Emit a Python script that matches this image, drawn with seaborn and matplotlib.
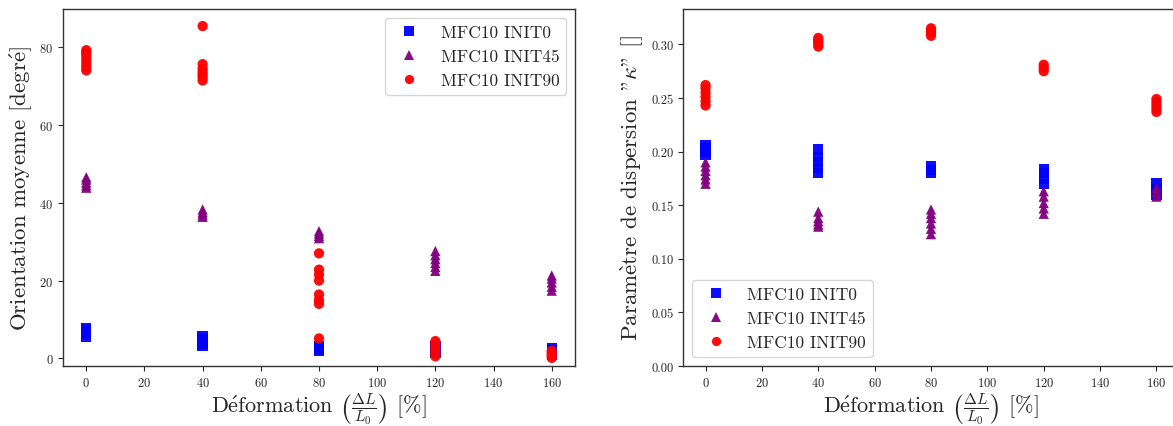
import numpy as np
import pandas as pd
import matplotlib
matplotlib.use("Agg")
import matplotlib.pyplot as plt
import seaborn as sns

# niveaux de deformation (%)
strain_levels = [0, 40, 80, 120, 160]
series_names = ["MFC10 INIT0", "MFC10 INIT45", "MFC10 INIT90"]

# orientation moyenne [degre], une liste par niveau de deformation
orient_init0 = [[5.6, 6.2, 6.8, 7.3, 7.7],
                [3.2, 3.8, 4.4, 5.0, 5.6],
                [2.0, 2.4, 2.8, 3.1],
                [1.5, 2.0, 2.5, 3.0],
                [0.8, 1.4, 2.0, 2.5]]
orient_init45 = [[43.9, 44.5, 45.2, 46.0, 46.6],
                 [36.4, 37.0, 37.6, 38.3],
                 [30.9, 31.5, 32.1, 32.7],
                 [22.5, 23.5, 24.5, 25.5, 26.5, 27.6],
                 [17.4, 18.4, 19.5, 20.5, 21.3]]
orient_init90 = [[74.1, 75.0, 76.0, 77.0, 78.0, 78.7, 79.3],
                 [85.5, 71.5, 72.3, 73.0, 73.7, 74.5, 75.7],
                 [27.0, 22.8, 21.5, 20.0, 16.4, 15.0, 14.0, 5.1],
                 [0.5, 1.5, 2.5, 3.5, 4.4],
                 [0.1, 0.7, 1.3, 1.9]]

# parametre de dispersion kappa
kappa_init0 = [[0.197, 0.200, 0.203, 0.206],
               [0.180, 0.185, 0.190, 0.195, 0.202],
               [0.180, 0.183, 0.186],
               [0.170, 0.175, 0.180, 0.184],
               [0.160, 0.165, 0.171]]
kappa_init45 = [[0.170, 0.174, 0.178, 0.182, 0.186, 0.190],
                [0.130, 0.132, 0.135, 0.138, 0.144],
                [0.123, 0.128, 0.133, 0.138, 0.142, 0.146],
                [0.142, 0.147, 0.152, 0.158, 0.163],
                [0.158, 0.162, 0.166]]
kappa_init90 = [[0.243, 0.247, 0.251, 0.255, 0.259, 0.262],
                [0.298, 0.300, 0.302, 0.304, 0.306],
                [0.308, 0.311, 0.313, 0.315],
                [0.275, 0.278, 0.281],
                [0.237, 0.240, 0.243, 0.246, 0.249]]


def to_long(groups, value_name):
    rows = []
    for name, series in zip(series_names, groups):
        for x, vals in zip(strain_levels, series):
            for v in vals:
                rows.append({"def": x, value_name: v, "serie": name})
    return pd.DataFrame(rows)


df_orient = to_long([orient_init0, orient_init45, orient_init90], "orient")
df_kappa = to_long([kappa_init0, kappa_init45, kappa_init90], "kappa")

sns.set_style("ticks")
plt.rcParams["font.family"] = ["cmr10", "DejaVu Serif"]
plt.rcParams["mathtext.fontset"] = "cm"
plt.rcParams["axes.formatter.use_mathtext"] = True
plt.rcParams["axes.edgecolor"] = "#333333"
plt.rcParams["axes.linewidth"] = 1.0

palette = {"MFC10 INIT0": "blue", "MFC10 INIT45": "purple", "MFC10 INIT90": "red"}
markers = {"MFC10 INIT0": "s", "MFC10 INIT45": "^", "MFC10 INIT90": "o"}

fig = plt.figure(figsize=(11.73, 4.27), dpi=100)
ax1 = fig.add_axes([63 / 1173, 1 - 367 / 427, 512 / 1173, 357 / 427])
ax2 = fig.add_axes([683 / 1173, 1 - 367 / 427, 496 / 1173, 357 / 427])

# accents via mathtext : cmr10 n'a pas les glyphes accentues
e_aigu = r"$\acute{\mathrm{e}}$"
e_grave = r"$\grave{\mathrm{e}}$"
xlabel = "D" + e_aigu + r"formation $\left(\frac{\Delta L}{L_0}\right)$ [%]"

sns.scatterplot(data=df_orient, x="def", y="orient", hue="serie", style="serie",
                palette=palette, markers=markers, s=55, linewidth=0,
                alpha=0.95, ax=ax1)
ax1.set_xlim(-8, 168)
ax1.set_ylim(-2.0, 89.9)
ax1.set_xticks(np.arange(0, 161, 20))
ax1.set_yticks(np.arange(0, 81, 20))
ax1.set_xlabel(xlabel, fontsize=16, labelpad=1)
ax1.set_ylabel("Orientation moyenne [degr" + e_aigu + "]", fontsize=16.5)
ax1.tick_params(labelsize=9)
ax1.legend(loc="upper right", fontsize=12.5, markerscale=0.9)

sns.scatterplot(data=df_kappa, x="def", y="kappa", hue="serie", style="serie",
                palette=palette, markers=markers, s=55, linewidth=0,
                alpha=0.95, ax=ax2)
ax2.set_xlim(-8, 168)
ax2.set_ylim(0, 0.333)
ax2.set_xticks(np.arange(0, 161, 20))
ax2.set_yticks(np.arange(0, 0.31, 0.05))
ax2.yaxis.set_major_formatter(matplotlib.ticker.FormatStrFormatter("%.2f"))
ax2.set_xlabel(xlabel, fontsize=16, labelpad=1)
ax2.set_ylabel("Param" + e_grave + r'tre de dispersion "$\kappa$" []', fontsize=16.5)
ax2.tick_params(labelsize=9)
ax2.legend(loc="lower left", fontsize=12.5, markerscale=0.9)

fig.savefig("out.png", dpi=100)
